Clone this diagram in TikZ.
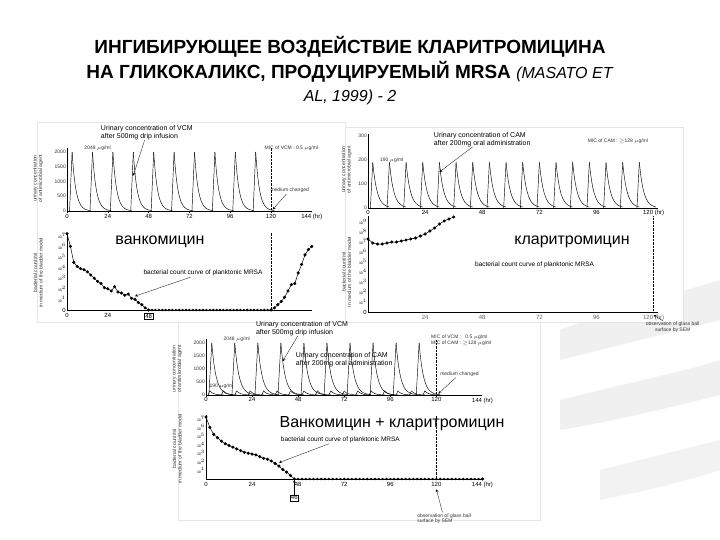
\documentclass[tikz,border=0pt]{standalone}
\usepackage{fontspec}
\setmainfont{Liberation Sans}
\begin{document}
\begin{tikzpicture}[x=1pt,y=-1pt,
 tiny/.style={font=\fontsize{5}{5.5}\selectfont,text=black!80,inner sep=1pt},
 ticklab/.style={font=\fontsize{6}{6}\selectfont,inner sep=1pt},
 big/.style={font=\fontsize{16}{16}\selectfont,inner sep=0pt},
 ax/.style={line width=0.5pt},
 crv/.style={line width=0.45pt},
 pts/.style={line width=0.5pt,mark=*,mark size=1.3pt},
 vdash/.style={densely dotted,line width=0.4pt}]
\useasboundingbox (0,0) rectangle (720,540);
\fill[white] (0,0) rectangle (720,540);
% faint background swooshes
\fill[black!6] (560,330) .. controls (640,300) and (690,290) .. (720,280) -- (720,320) .. controls (680,330) and (620,345) .. (560,360) -- cycle;
\fill[black!6] (560,400) .. controls (640,380) and (690,370) .. (720,360) -- (720,395) .. controls (680,405) and (620,420) .. (560,430) -- cycle;
\fill[black!5] (600,470) .. controls (660,455) and (700,445) .. (720,440) -- (720,470) .. controls (690,480) and (650,490) .. (600,500) -- cycle;
% title
\node[font=\bfseries\fontsize{19}{19}\selectfont] (t1) at (350,47) {ИНГИБИРУЮЩЕЕ ВОЗДЕЙСТВИЕ КЛАРИТРОМИЦИНА};
\node[font=\bfseries\fontsize{19}{19}\selectfont] (t2) at (350,72) {НА ГЛИКОКАЛИКС, ПРОДУЦИРУЕМЫЙ MRSA \textit{\mdseries\fontsize{16}{16}\selectfont(MASATO ET}};
\node[font=\itshape\fontsize{16}{16}\selectfont] (t3) at (350,97) {AL, 1999) - 2};
% panel backgrounds
\fill[white,draw=black!10] (37,122) rectangle (345,322);
\fill[white,draw=black!10] (345,127) rectangle (683,322);
\fill[white,draw=black!10] (178,322) rectangle (540,520);

%% ===== Panel A top
\begin{scope}[shift={(67,211)},x=1.7pt,y=0.0295pt]
 \draw[ax] (0,0) -- (144,0); \draw[ax] (0,0) -- (0,2150);
 \foreach \v in {0,24,48,72,96,120}{\draw (\v,0)--(\v,-60); \node[ticklab,below] (a\v) at (\v,-60) {\v};}
 \node[ticklab,below] (a144) at (144,-60) {144 (hr)};
 \foreach \v/\l in {0/0,500/500,1000/1000,1500/1500,2000/2000}{\node[tiny,left] (ay\v) at (0,\v) {\l};}
 \foreach \t in {3,15,...,111}{
  \draw[crv] (\t-1.5,0) -- (\t,2000);
  \draw[crv] plot[domain=0:11,samples=25] ({\t+\x},{2000*exp(-0.45*\x)});}
 \draw[vdash] (120,0) -- (120,2150);
 \node[tiny] (al1) at (18,2120) {2048 $\mu$g/ml};
 \node[tiny] (al2) at (132,2120) {MIC of VCM : 0.5 $\mu$g/ml};
 \node[tiny] (al3) at (131,700) {medium changed};
 \draw[->,>=stealth,line width=0.3pt] (al3) -- (121,50);
 \node[font=\fontsize{7}{7.5}\selectfont,align=left,inner sep=0pt] (al4) at (47,2650) {Urinary concentration of VCM\\after 500mg drip infusion};
 \draw[->,>=stealth,line width=0.3pt] (al4) -- (39,1200);
 \node[tiny,rotate=90,align=center] (al5) at (-17,1100) {urinary concentration\\of antimicrobial agent};
\end{scope}
%% ===== Panel A bottom
\begin{scope}[shift={(67,310)},x=1.7pt,y=10.6pt]
 \draw[ax] (0,0) -- (144,0); \draw[ax] (0,0) -- (0,7.3);
 \foreach \v in {0,24}{\node[ticklab,below] (ab\v) at (\v,-0.2) {\v};}
 \node[ticklab,below,draw,inner sep=1pt] (ab48) at (48,-0.25) {48};
 \foreach \v in {1,...,7}{\node[font=\fontsize{3.5}{4}\selectfont,left,inner sep=1pt] (aby\v) at (0,\v) {10$^{\v}$};}
 \node[ticklab,left] (aby0) at (0,0) {0};
 \draw[vdash] (120,0) -- (120,7.3);
 \draw[pts] plot coordinates {(0,7.2) (2,6) (4,4.5) (6,4.1) (8,3.9) (10,3.8) (12,3.6) (14,3.3) (16,3) (18,2.7) (20,2.5) (22,2.1) (24,2) (26,1.8) (28,2.2) (30,1.7) (32,1.6) (34,1.4) (36,1.5) (38,1.1) (40,1) (42,0.7) (44,0.5) (46,0.2) (48,0) (120,0) (122,0.2) (124,0.5) (126,0.8) (128,1.2) (130,1.8) (132,2.4) (134,2.5) (136,3.5) (138,4.3) (140,5.2) (142,5.7) (144,6)};
 \foreach \h in {50,52,...,118}{\fill (\h,0) circle (1.3pt);}
 \node[font=\fontsize{6.5}{7}\selectfont,inner sep=1pt] (ab1) at (80,3.5) {bacterial count curve of planktonic MRSA};
 \draw[->,>=stealth,line width=0.3pt] (ab1) -- (40,1.3);
 \node[tiny,rotate=90,align=center] (ab2) at (-17,3.5) {bacterial count/ml\\in medium of the bladder model};
\end{scope}
\node[big] (vanc) at (160,242) {ванкомицин};

%% ===== Panel B top
\begin{scope}[shift={(368,208)},x=2.38pt,y=0.24pt]
 \draw[ax] (0,0) -- (122,0); \draw[ax] (0,0) -- (0,310);
 \foreach \v in {0,24,48,72,96}{\node[ticklab,below] (b\v) at (\v,-6) {\v};}
 \node[ticklab,below] (b120) at (120,-6) {120 (hr)};
 \foreach \v in {0,100,200,300}{\node[tiny,left] (by\v) at (0,\v) {\v};}
 \foreach \t in {2,9,...,114}{
  \draw[crv] (\t-1,0) -- (\t,190);
  \draw[crv] plot[domain=0:7,samples=15] ({\t+\x},{190*exp(-0.55*\x)});}
 \node[tiny] (bl1) at (10,200) {190 $\mu$g/ml};
 \node[tiny] (bl2) at (105,280) {MIC of CAM : $\geq$128 $\mu$g/ml};
 \node[font=\fontsize{7}{7.5}\selectfont,align=left,inner sep=0pt] (bl3) at (48,285) {Urinary concentration of CAM\\after 200mg oral administration};
 \draw[->,>=stealth,line width=0.3pt] (bl3) -- (30,150);
 \node[tiny,rotate=90,align=center] (bl4) at (-9,160) {urinary concentration\\of antimicrobial agent};
\end{scope}
%% ===== Panel B bottom
\begin{scope}[shift={(368,312)},x=2.38pt,y=10pt]
 \draw[ax] (0,0) -- (122,0); \draw[ax] (0,0) -- (0,9.6);
 \foreach \v in {24,48,72,96}{\node[ticklab,below,text=black!60] (bb\v) at (\v,-0.2) {\v};}
 \node[ticklab,below,text=black!60] (bb120) at (120,-0.2) {120 (hr)};
 \node[ticklab,left] (bby0) at (0,0) {0};
 \foreach \v in {1,...,9}{\node[font=\fontsize{3.5}{4}\selectfont,left,inner sep=1pt] (bby\v) at (0,\v) {10$^{\v}$};}
 \draw[vdash] (120,0) -- (120,9.6);
 \draw[pts] plot coordinates {(0,7.3) (2,6.9) (4,6.8) (6,6.8) (8,6.9) (10,7) (12,7) (14,7.1) (16,7.2) (18,7.3) (20,7.4) (22,7.6) (24,7.8) (26,8.1) (28,8.4) (30,8.8) (32,9.1) (34,9.3) (36,9.5)};
 \node[font=\fontsize{6.5}{7}\selectfont,inner sep=1pt] (bb1) at (70,4.7) {bacterial count curve of planktonic MRSA};
 \node[tiny,align=center] (bb2) at (128,-1.5) {observation of glass ball\\surface by SEM};
 \draw[->,>=stealth,line width=0.3pt] (bb2) -- (120,-0.3);
 \node[tiny,rotate=90,align=center] (bb3) at (-9,4) {bacterial count/ml\\in medium of the bladder model};
\end{scope}
\node[big] (clar) at (572,242) {кларитромицин};

%% ===== Panel C top
\begin{scope}[shift={(206,395)},x=1.92pt,y=0.026pt]
 \draw[ax] (0,0) -- (144,0); \draw[ax] (0,0) -- (0,2150);
 \foreach \v in {0,24,48,72,96,120}{\draw (\v,0)--(\v,-60); \node[ticklab,below] (c\v) at (\v,-60) {\v};}
 \node[ticklab,below] (c144) at (144,-60) {144 (hr)};
 \foreach \v in {0,500,1000,1500,2000}{\node[tiny,left] (cy\v) at (0,\v) {\v};}
 \foreach \t in {3,15,...,111}{
  \draw[crv] (\t-1.5,0) -- (\t,2000);
  \draw[crv] plot[domain=0:11,samples=25] ({\t+\x},{2000*exp(-0.45*\x)});}
 \foreach \t in {2,9,...,114}{
  \draw[crv] (\t-1,0) -- (\t,160);
  \draw[crv] plot[domain=0:7,samples=12] ({\t+\x},{160*exp(-0.55*\x)});}
 \draw[vdash] (120,0) -- (120,2150);
 \node[tiny] (cl1) at (16,2150) {2048 $\mu$g/ml};
 \node[tiny] (cl2) at (8,350) {190 $\mu$g/ml};
 \node[tiny,align=left] (cl3) at (133,2100) {MIC of VCM : \ \ 0.5 $\mu$g/ml\\MIC of CAM : $\geq$128 $\mu$g/ml};
 \node[tiny] (cl4) at (132,800) {medium changed};
 \draw[->,>=stealth,line width=0.3pt] (cl4) -- (121,50);
 \node[font=\fontsize{7}{7.5}\selectfont,align=left,inner sep=0pt] (cl5) at (50,2550) {Urinary concentration of VCM\\after 500mg drip infusion};
 \draw[->,>=stealth,line width=0.3pt] (cl5) -- (40,1300);
 \node[font=\fontsize{7}{7.5}\selectfont,align=left,inner sep=0pt] (cl6) at (72,1350) {Urinary concentration of CAM\\after 200mg oral administration};
 \node[tiny,rotate=90,align=center] (cl7) at (-15,1000) {urinary concentration\\of antimicrobial agent};
\end{scope}
%% ===== Panel C bottom
\begin{scope}[shift={(206,479)},x=1.92pt,y=8.6pt]
 \draw[ax] (0,0) -- (144,0); \draw[ax] (0,0) -- (0,7.4);
 \foreach \v in {0,24,72,96,120}{\node[ticklab,below] (cb\v) at (\v,-0.2) {\v};}
 \node[ticklab,below] (cb48) at (48,-0.2) {48};
 \node[ticklab,below] (cb144) at (144,-0.2) {144 (hr)};
 \node[ticklab,draw,inner sep=1pt] (cb46) at (46,-2.2) {46};
 \draw[->,>=stealth,line width=0.3pt] (cb46) -- (46,-0.1);
 \foreach \v in {1,...,7}{\node[font=\fontsize{3.5}{4}\selectfont,left,inner sep=1pt] (cby\v) at (0,\v) {10$^{\v}$};}
 \draw[vdash] (120,0) -- (120,7.4);
 \draw[pts] plot coordinates {(0,7.2) (2,6) (4,5.2) (6,4.8) (8,4.4) (10,4.1) (12,3.9) (14,3.7) (16,3.5) (18,3.3) (20,3.1) (22,3) (24,2.9) (26,2.8) (28,2.6) (30,2.4) (32,2.3) (34,2.1) (36,1.8) (38,1.5) (40,1.1) (42,0.8) (44,0.4) (46,0) (144,0)};
 \foreach \h in {48,50,...,142}{\fill (\h,0) circle (1.3pt);}
 \node[font=\fontsize{6.5}{7}\selectfont,inner sep=1pt] (cb1) at (70,4.6) {bacterial count curve of planktonic MRSA};
 \draw[->,>=stealth,line width=0.3pt] (cb1) -- (38,1.9);
 \node[tiny,align=left] (cb2) at (124,-4.6) {observation of glass ball\\surface by SEM};
 \draw[->,>=stealth,line width=0.3pt] (cb2) -- (120,-1.2);
 \node[tiny,rotate=90,align=center] (cb3) at (-15,3.5) {bacterial count/ml\\in medium of the bladder model};
\end{scope}
\node[big] (both) at (392,424) {Ванкомицин + кларитромицин};
\end{tikzpicture}
\end{document}
